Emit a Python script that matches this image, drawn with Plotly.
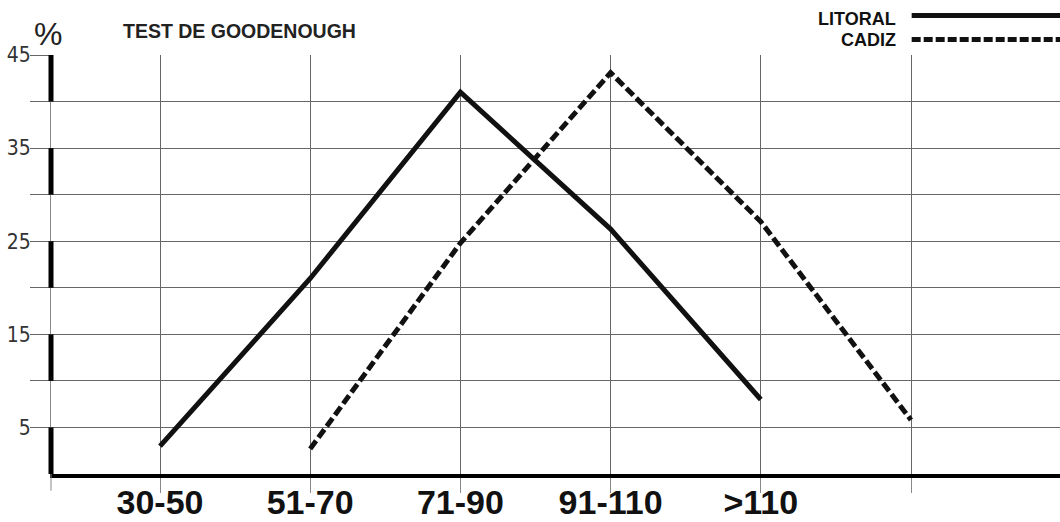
import plotly.graph_objects as go

categories = ["30-50", "51-70", "71-90", "91-110", ">110", " "]
litoral_x = categories[0:5]
litoral_y = [3.0, 21.0, 41.0, 26.3, 8.0]
cadiz_x = categories[1:6]
cadiz_y = [2.7, 24.8, 43.1, 27.1, 5.8]
y_tickvals = [5, 10, 15, 20, 25, 30, 35, 40, 45]
y_ticktext = ["5", "", "15", "", "25", "", "35", "", "45"]
axis_bold_segments = [(40, 45), (30, 35), (20, 25), (10, 15), (0, 5)]

fig = go.Figure()
fig.add_trace(go.Scatter(x=litoral_x, y=litoral_y, mode="lines", name="LITORAL",
                         line=dict(color="#111111", width=5)))
fig.add_trace(go.Scatter(x=cadiz_x, y=cadiz_y, mode="lines", name="CADIZ",
                         line=dict(color="#111111", width=5, dash="10px,4px")))

shapes = []
for y0, y1 in axis_bold_segments:
    shapes.append(dict(type="line", xref="paper", yref="y", x0=0, x1=0, y0=y0, y1=y1,
                       line=dict(color="black", width=5)))
# axis line extension below
shapes.append(dict(type="line", xref="paper", yref="paper", x0=0, x1=0, y0=0, y1=-0.04,
                   line=dict(color="#888888", width=1)))
# legend samples
shapes.append(dict(type="line", xref="paper", yref="paper", x0=0.853, x1=1.0, y0=1.094, y1=1.094,
                   line=dict(color="#111111", width=5)))
shapes.append(dict(type="line", xref="paper", yref="paper", x0=0.853, x1=1.0, y0=1.037, y1=1.037,
                   line=dict(color="#111111", width=5, dash="9px,3px")))

annotations = [
    dict(text="TEST DE GOODENOUGH", xref="paper", yref="paper", x=(239-51)/1009, y=(474-31)/419,
         xanchor="center", yanchor="middle", showarrow=False,
         font=dict(family="Liberation Sans, Arial", size=19.5, color="#222222", weight="bold")),
    dict(text="%", xref="paper", yref="paper", x=(48-51)/1009, y=(474-34)/419,
         xanchor="center", yanchor="middle", showarrow=False,
         font=dict(family="Liberation Sans, Arial", size=32, color="#222222")),
    dict(text="LITORAL", xref="paper", yref="paper", x=(898-51)/1009, y=(474-18.5)/419,
         xanchor="right", yanchor="middle", showarrow=False,
         font=dict(family="Liberation Sans, Arial", size=18, color="#111111", weight="bold")),
    dict(text="CADIZ", xref="paper", yref="paper", x=(898-51)/1009, y=(474-40)/419,
         xanchor="right", yanchor="middle", showarrow=False,
         font=dict(family="Liberation Sans, Arial", size=18, color="#111111", weight="bold")),
]

fig.update_layout(
    width=1060, height=522,
    margin=dict(l=51, r=0, t=55, b=48),
    paper_bgcolor="white", plot_bgcolor="white",
    showlegend=False,
    shapes=shapes, annotations=annotations,
    xaxis=dict(type="category", categoryorder="array", categoryarray=categories,
               range=[-0.7257, 5.992], showgrid=True, gridcolor="#666666", gridwidth=1.2,
               showline=True, linecolor="black", linewidth=4, zeroline=False,
               ticks="outside", ticklen=15, tickcolor="#888888", tickwidth=1,
               ticklabelstandoff=-20, automargin=False,
               tickfont=dict(family="Liberation Sans, Arial", size=34, color="#111111", weight="bold")),
    yaxis=dict(range=[0, 45], tickvals=y_tickvals, ticktext=y_ticktext,
               showgrid=True, gridcolor="#666666", gridwidth=1.2,
               showline=True, linecolor="#888888", linewidth=1, zeroline=False,
               ticks="outside", ticklen=20, tickcolor="#666666", tickwidth=1.2, automargin=False,
               ticklabelstandoff=-5,
               tickfont=dict(family="Liberation Sans Narrow, DejaVu Sans Condensed, Arial", size=21, color="#333333")),
)

fig.write_html("out.html", config={"displayModeBar": False},
               post_script="document.body.style.margin='0';document.body.style.overflow='hidden';")
